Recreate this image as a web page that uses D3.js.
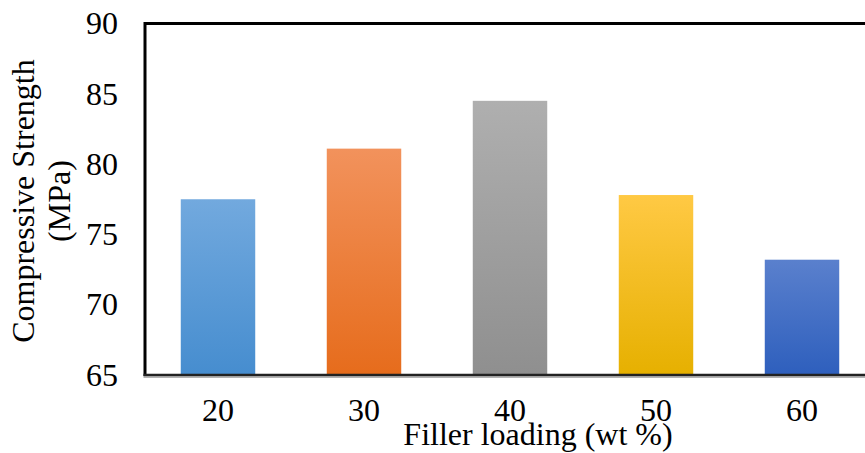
<!DOCTYPE html>
<html>
<head>
<meta charset="utf-8">
<script src="https://cdn.jsdelivr.net/npm/d3@7"></script>
<style>
  html, body { margin: 0; padding: 0; background: #fff; }
  svg { display: block; }
  text { font-family: "Liberation Serif", "Times New Roman", serif; fill: #000; }
</style>
</head>
<body>
<svg id="chart" width="865" height="453"></svg>
<script>
// Filler loading (wt %) categories and measured compressive strength (MPa)
const categories = ["20", "30", "40", "50", "60"];
const strength = [77.5, 81.1, 84.5, 77.8, 73.2];
const yTicks = [65, 70, 75, 80, 85, 90];
// Top / bottom gradient colours for each bar
const topColors = ["#72a9de", "#f2925c", "#afafaf", "#ffc944", "#5a80cd"];
const bottomColors = ["#468dcf", "#e66c1c", "#8f8f8f", "#e6b000", "#2e5fbd"];

const serif = "'Liberation Serif', 'Times New Roman', serif";
const svg = d3.select("#chart");
const plot = { left: 145, right: 875, top: 23.5, bottom: 375 };

const x = d3.scaleBand()
  .domain(categories)
  .range([plot.left, plot.right])
  .paddingInner(0.49)
  .paddingOuter(0.245);

const y = d3.scaleLinear()
  .domain([65, 90])
  .range([plot.bottom, plot.top]);

// gradients
const defs = svg.append("defs");
categories.forEach((c, i) => {
  const g = defs.append("linearGradient")
    .attr("id", "grad" + i)
    .attr("x1", 0).attr("y1", 0).attr("x2", 0).attr("y2", 1);
  g.append("stop").attr("offset", "0%").attr("stop-color", topColors[i]);
  g.append("stop").attr("offset", "100%").attr("stop-color", bottomColors[i]);
});

// bars
svg.append("g").selectAll("rect")
  .data(categories)
  .join("rect")
  .attr("x", d => x(d))
  .attr("width", x.bandwidth())
  .attr("y", (d, i) => y(strength[i]))
  .attr("height", (d, i) => y(65) - y(strength[i]))
  .attr("fill", (d, i) => `url(#grad${i})`);

// frame: top and left borders
svg.append("line")
  .attr("x1", plot.left).attr("x2", plot.right)
  .attr("y1", plot.top).attr("y2", plot.top)
  .attr("stroke", "#000").attr("stroke-width", 3);
svg.append("line")
  .attr("x1", plot.left).attr("x2", plot.left)
  .attr("y1", plot.top - 1.5).attr("y2", plot.bottom + 1)
  .attr("stroke", "#000").attr("stroke-width", 3);

// x axis baseline
svg.append("line")
  .attr("x1", plot.left - 1.5).attr("x2", plot.right)
  .attr("y1", plot.bottom + 2.2).attr("y2", plot.bottom + 2.2)
  .attr("stroke", "#9a9a9a").attr("stroke-width", 1.2);
svg.append("line")
  .attr("x1", plot.left - 1.5).attr("x2", plot.right)
  .attr("y1", plot.bottom).attr("y2", plot.bottom)
  .attr("stroke", "#222").attr("stroke-width", 2.4);

// y axis labels
const yAxis = d3.axisLeft(y).tickValues(yTicks).tickSize(0).tickPadding(27).tickFormat(d3.format("d"));
const gy = svg.append("g").attr("transform", `translate(${plot.left},0)`).call(yAxis);
gy.attr("font-family", serif).attr("font-size", 32);
gy.select(".domain").remove();
gy.selectAll("text").style("font-family", serif).attr("fill", "#000");

// x axis labels
const xAxis = d3.axisBottom(x).tickSize(0).tickPadding(0);
const gx = svg.append("g").attr("transform", `translate(0,${plot.bottom})`).call(xAxis);
gx.attr("font-family", serif).attr("font-size", 32);
gx.select(".domain").remove();
gx.selectAll("text")
  .attr("dy", null)
  .attr("y", 46)
  .style("font-family", serif)
  .attr("fill", "#000");

// axis titles
svg.append("text")
  .attr("x", 538).attr("y", 445)
  .attr("text-anchor", "middle")
  .attr("font-size", 32)
  .text("Filler loading (wt %)");

const yTitle = svg.append("text")
  .attr("transform", "translate(34,201) rotate(-90)")
  .attr("text-anchor", "middle")
  .attr("font-size", 32);
yTitle.append("tspan").attr("x", 0).attr("y", 0).text("Compressive Strength");
yTitle.append("tspan").attr("x", 0).attr("y", 36).text("(MPa)");
</script>
</body>
</html>
